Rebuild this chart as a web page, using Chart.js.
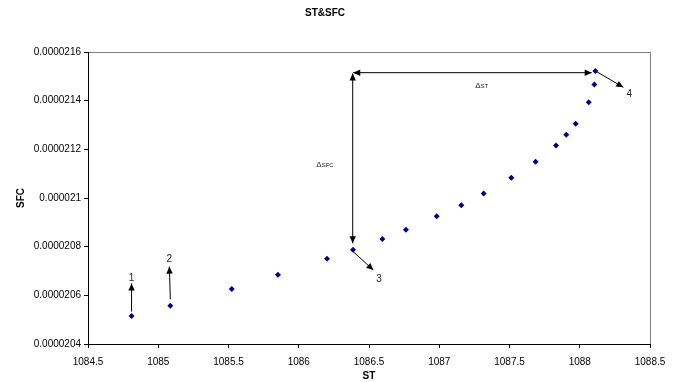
<!DOCTYPE html>
<html>
<head>
<meta charset="utf-8">
<script src="https://cdn.jsdelivr.net/npm/chart.js@4.4.1/dist/chart.umd.min.js"></script>
<style>
    html, body { margin: 0; padding: 0; background: #fff; }
    canvas { display: block; }
</style>
</head>
<body>
<canvas id="chart" width="679" height="382"></canvas>
<script>
// ST / SFC Messpunkte
const stValues = [1084.81, 1085.086, 1085.523, 1085.852, 1086.201, 1086.386, 1086.595, 1086.763, 1086.982, 1087.157,
    1087.316, 1087.513, 1087.686, 1087.831, 1087.904, 1087.971, 1088.064, 1088.104, 1088.111];
const sfcValues = [0.000020515, 0.000020557, 0.000020626, 0.000020685, 0.000020750, 0.000020787, 0.000020831, 0.000020870,
    0.000020925, 0.000020970, 0.000021019, 0.000021083, 0.000021149, 0.000021216, 0.000021260, 0.000021305,
    0.000021393, 0.000021466, 0.000021522];

const xTicks = [1084.5, 1085, 1085.5, 1086, 1086.5, 1087, 1087.5, 1088, 1088.5];
const yTicks = [0.0000204, 0.0000206, 0.0000208, 0.000021, 0.0000212, 0.0000214, 0.0000216];

// Pfeile in Datenkoordinaten [x, y]
const arrows = [
    { from: [1084.81, 0.0000205330], to: [1084.81, 0.0000206490], start: false, end: true },
    { from: [1085.086, 0.0000205840], to: [1085.079, 0.0000207180], start: false, end: true },
    { from: [1086.388, 0.0000215150], to: [1088.085, 0.0000215150], start: true, end: true },
    { from: [1086.384, 0.0000215120], to: [1086.384, 0.0000208140], start: true, end: true },
    { from: [1086.388, 0.0000207790], to: [1086.531, 0.0000207040], start: false, end: true },
    { from: [1088.121, 0.0000215190], to: [1088.310, 0.0000214550], start: false, end: true },
];
const numberLabels = [
    { text: '1', at: [1084.81, 0.0000206720] },
    { text: '2', at: [1085.079, 0.0000207480] },
    { text: '3', at: [1086.571, 0.0000206670] },
    { text: '4', at: [1088.353, 0.0000214260] },
];
const deltaLabels = [
    { text: 'ST', at: [1087.302, 0.0000214610] },
    { text: 'SFC', at: [1086.187, 0.0000211360] },
];

function fmtY(v) {
    return v.toFixed(7).replace(/0+$/, '');
}

function drawArrow(ctx, x1, y1, x2, y2, headStart, headEnd) {
    ctx.beginPath();
    ctx.moveTo(x1, y1);
    ctx.lineTo(x2, y2);
    ctx.stroke();
    const head = (tx, ty, fx, fy) => {
        const a = Math.atan2(ty - fy, tx - fx);
        const len = 7, w = 3.2;
        ctx.beginPath();
        ctx.moveTo(tx, ty);
        ctx.lineTo(tx - len * Math.cos(a) + w * Math.sin(a), ty - len * Math.sin(a) - w * Math.cos(a));
        ctx.lineTo(tx - len * Math.cos(a) - w * Math.sin(a), ty - len * Math.sin(a) + w * Math.cos(a));
        ctx.closePath();
        ctx.fill();
    };
    if (headEnd) head(x2, y2, x1, y1);
    if (headStart) head(x1, y1, x2, y2);
}

const frame = {
    id: 'frame',
    beforeDraw(chart) {
        const { ctx, chartArea: a } = chart;
        ctx.save();
        ctx.strokeStyle = '#808080';
        ctx.lineWidth = 1;
        ctx.strokeRect(a.left + 0.5, a.top + 0.5, a.right - a.left, a.bottom - a.top);
        ctx.restore();
    },
    afterDraw(chart) {
        const { ctx } = chart;
        const xs = chart.scales.x, ys = chart.scales.y;
        const px = v => xs.getPixelForValue(v);
        const py = v => ys.getPixelForValue(v);
        ctx.save();
        ctx.strokeStyle = '#000';
        ctx.fillStyle = '#000';
        ctx.lineWidth = 1;
        arrows.forEach(ar => {
            drawArrow(ctx, px(ar.from[0]), py(ar.from[1]), px(ar.to[0]), py(ar.to[1]), ar.start, ar.end);
        });
        ctx.fillStyle = '#222';
        ctx.textAlign = 'center';
        ctx.textBaseline = 'middle';
        ctx.font = '10px "Liberation Sans", Arial, sans-serif';
        numberLabels.forEach(l => ctx.fillText(l.text, px(l.at[0]), py(l.at[1])));
        deltaLabels.forEach(l => {
            ctx.font = '8px "Liberation Sans", Arial, sans-serif';
            const dW = ctx.measureText('\u0394').width;
            ctx.font = '6px "Liberation Sans", Arial, sans-serif';
            const tW = ctx.measureText(l.text).width;
            let x = px(l.at[0]) - (dW + tW) / 2;
            const y = py(l.at[1]);
            ctx.textAlign = 'left';
            ctx.font = '8px "Liberation Sans", Arial, sans-serif';
            ctx.fillText('\u0394', x, y);
            ctx.font = '6px "Liberation Sans", Arial, sans-serif';
            ctx.fillText(l.text, x + dW, y + 0.5);
        });
        ctx.restore();
    }
};

const axisFont = { family: '"Liberation Sans", Arial, sans-serif', size: 10 };
const titleFont = { family: '"Liberation Sans", Arial, sans-serif', size: 10, weight: 'bold' };

new Chart(document.getElementById('chart'), {
    type: 'scatter',
    data: {
        datasets: [{
            data: stValues.map((x, i) => ({ x, y: sfcValues[i] })),
            backgroundColor: '#000080',
            borderColor: '#000080',
            pointStyle: 'rectRot',
            pointRadius: 3,
            borderWidth: 0,
        }],
    },
    options: {
        responsive: false,
        animation: false,
        layout: { padding: { left: 0, right: 29, top: 0, bottom: 0 } },
        plugins: {
            legend: { display: false },
            tooltip: { enabled: false },
            title: {
                display: true,
                text: 'ST&SFC',
                color: '#000',
                font: titleFont,
                padding: { top: 7, bottom: 33 },
            },
        },
        scales: {
            x: {
                type: 'linear',
                min: 1084.5,
                max: 1088.5,
                afterBuildTicks: s => { s.ticks = xTicks.map(v => ({ value: v })); },
                afterFit: s => { s.height = 38; },
                grid: { display: true, drawOnChartArea: false, drawTicks: true, tickLength: 4, color: '#000' },
                border: { display: true, color: '#000' },
                ticks: {
                    color: '#000', font: axisFont, padding: 8, maxRotation: 0,
                    callback: v => String(v),
                },
                title: { display: true, text: 'ST', color: '#000', font: titleFont, padding: { top: 0, bottom: 0 } },
            },
            y: {
                type: 'linear',
                min: 0.0000204,
                max: 0.0000216,
                afterBuildTicks: s => { s.ticks = yTicks.map(v => ({ value: v })); },
                afterFit: s => { s.width = 88; },
                grid: { display: true, drawOnChartArea: false, drawTicks: true, tickLength: 4, color: '#000' },
                border: { display: true, color: '#000' },
                ticks: {
                    color: '#000', font: axisFont, padding: 3,
                    callback: v => fmtY(v),
                },
                title: { display: true, text: 'SFC', color: '#000', font: titleFont, padding: { top: 15, bottom: 0 } },
            },
        },
    },
    plugins: [frame],
});
</script>
</body>
</html>
